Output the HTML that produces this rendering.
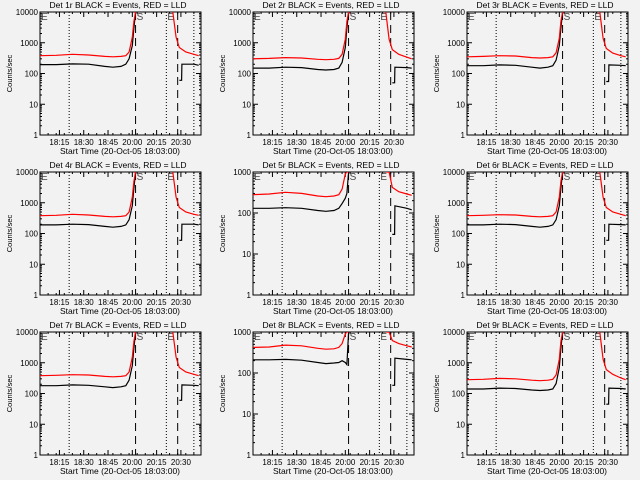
<!DOCTYPE html>
<html><head><meta charset="utf-8"><style>
html,body{margin:0;padding:0;background:#f2f2f2;}
svg{display:block;font-family:"Liberation Sans",sans-serif;}
</style></head><body>
<svg id="c" width="640" height="480"></svg>
<script>
const panelTitles = ["Det 1r","Det 2r","Det 3r","Det 4r","Det 5r","Det 6r","Det 7r","Det 8r","Det 9r"];
const panelMaxDecade = [4,4,4,4,3,4,4,3,4];
const preTimes = [0,10,20,30,40,45,50,53,55,57,58,59];
const postTimesRed = [82,84,86,90,95,98];
const postTimesBlack = [86,87.4,87.6,95,98];
const redPre = [
 [380,390,420,400,360,350,360,380,500,1500,5000,12000],
 [300,310,330,320,290,280,290,310,420,1300,5000,12000],
 [350,360,380,370,330,320,330,350,470,1400,5000,12000],
 [380,390,420,400,360,350,360,380,500,1500,5000,12000],
 [280,290,320,300,260,250,260,280,380,900,2000,2000],
 [380,390,410,400,360,350,360,380,500,1500,5000,12000],
 [380,390,410,400,360,350,360,380,500,1500,5000,12000],
 [420,430,480,460,400,380,390,420,520,900,2000,2000],
 [280,290,310,300,270,260,270,290,400,1300,5000,12000]];
const redPost = [
 [12000,1500,700,500,420,380],[12000,1300,600,420,340,300],[12000,1400,650,460,380,350],
 [12000,1500,700,500,420,390],[2000,1000,420,330,290,270],[12000,1500,700,500,420,380],
 [12000,1500,700,500,420,380],[2000,1000,620,520,460,430],[12000,1300,600,420,320,280]];
const blackPre = [
 [195,195,205,200,170,160,170,200,300,800,3000,12000],
 [150,150,160,155,135,130,135,150,230,700,3000,12000],
 [180,180,190,185,160,150,160,180,270,800,3000,12000],
 [190,190,200,195,170,160,170,190,280,800,3000,12000],
 [130,130,135,130,115,110,115,130,170,230,300,2000],
 [190,190,200,195,170,160,170,190,280,800,3000,12000],
 [180,180,190,185,165,155,165,180,270,800,3000,12000],
 [210,210,215,205,180,170,175,180,200,180,160,2000],
 [140,140,150,145,130,125,130,140,210,700,3000,12000]];
const blackPost = [
 [60,60,200,200,185],[50,50,160,155,150],[55,55,190,185,180],
 [60,60,200,200,190],[30,30,150,130,120],[60,60,200,195,190],
 [60,60,190,185,180],[50,50,230,215,210],[45,45,150,145,140]];
const tickLabels = ["18:15","18:30","18:45","20:00","20:15","20:30"];
const tickTimes = [12,27,42,57,72,87];
const dottedTimes = [18,78,95];
const dashedTimes = [59,85];

const NS="http://www.w3.org/2000/svg";
const svg=document.getElementById('c');
function mk(tag,attrs,parent){const e=document.createElementNS(NS,tag);for(const k in attrs)e.setAttribute(k,attrs[k]);(parent||svg).appendChild(e);return e;}

for(let p=0;p<9;p++){
  const ox=[0,213,427][p%3], oy=[0,160,320][Math.floor(p/3)];
  const g=mk('g',{transform:`translate(${ox},${oy})`});
  
  
  const L=40,R=201,T=12,B=135,maxD=panelMaxDecade[p];
  const xs=t=>L+(t)*(R-L)/99.4;
  const ys=v=>{const lv=Math.log10(Math.max(1,Math.min(v,Math.pow(10,maxD))));return B-lv*(B-T)/maxD;};
  const clip='clip'+p;
  const cp=mk('clipPath',{id:clip},g);mk('rect',{x:L,y:T,width:R-L,height:B-T},cp);
  const ti=mk('text',{x:118,y:8,'text-anchor':'middle','font-size':'8.5'},g);
  ti.textContent=panelTitles[p]+" BLACK = Events, RED = LLD";
  
  
  const box=mk('rect',{x:L,y:T,width:R-L,height:B-T,fill:'none',stroke:'#000','stroke-width':1},g);
  
  
  for(let d=0;d<=maxD;d++){
    const y=ys(Math.pow(10,d));
    mk('line',{x1:L,x2:L+5,y1:y,y2:y,stroke:'#000'},g);
    mk('line',{x1:R,x2:R-5,y1:y,y2:y,stroke:'#000'},g);
    const tl=mk('text',{x:L-2,y:y+3,'text-anchor':'end','font-size':'8'},g);
    tl.textContent=String(Math.pow(10,d));
    
    
    if(d<maxD)for(let m=2;m<10;m++){const ym=ys(m*Math.pow(10,d));
      mk('line',{x1:L,x2:L+2,y1:ym,y2:ym,stroke:'#000'},g);mk('line',{x1:R,x2:R-2,y1:ym,y2:ym,stroke:'#000'},g);}
  }
  tickTimes.forEach((t,i)=>{const x=xs(t);
    mk('line',{x1:x,x2:x,y1:B,y2:B-5,stroke:'#000'},g);mk('line',{x1:x,x2:x,y1:T,y2:T+5,stroke:'#000'},g);
    const tl=mk('text',{x:x,y:B+10,'text-anchor':'middle','font-size':'8'},g);
    tl.textContent=tickLabels[i];
    
    
  });
  for(let t=0;t<99;t+=5){const x=xs(t);mk('line',{x1:x,x2:x,y1:B,y2:B-2,stroke:'#000'},g);mk('line',{x1:x,x2:x,y1:T,y2:T+2,stroke:'#000'},g);}
  const xl=mk('text',{x:120,y:154,'text-anchor':'middle','font-size':'8.5'},g);
  xl.textContent="Start Time (20-Oct-05 18:03:00)";
  
  
  const yl=mk('text',{x:0,y:0,'text-anchor':'middle','font-size':'7.5',transform:`translate(12,${(T+B)/2}) rotate(-90)`},g);
  yl.textContent="Counts/sec";
  
  
  dottedTimes.forEach(t=>{const l=mk('line',{x1:xs(t),x2:xs(t),y1:T,y2:B,stroke:'#000','stroke-dasharray':'1,2'},g);
    });
  dashedTimes.forEach(t=>{const l=mk('line',{x1:xs(t),x2:xs(t),y1:T,y2:B,stroke:'#000','stroke-dasharray':'8,5'},g);
    });
  const aE=mk('text',{x:L+1,y:T+8,'font-size':'10',fill:'#444'},g);aE.textContent="E";
  
  const aS=mk('text',{x:xs(59)+1,y:T+8,'font-size':'10',fill:'#444'},g);aS.textContent="S";
  
  const aE2=mk('text',{x:xs(78)+1,y:T+8,'font-size':'10',fill:'#444'},g);aE2.textContent="E";
  
  const path=(ts,vs)=>ts.map((t,i)=>(i?'L':'M')+xs(t).toFixed(1)+','+ys(vs[i]).toFixed(1)).join('');
  const gs=mk('g',{'clip-path':`url(#${clip})`},g);
  const s1=mk('path',{d:path(preTimes,blackPre[p]),fill:'none',stroke:'#000','stroke-width':1.2},gs);
  
  const s2=mk('path',{d:path(postTimesBlack,blackPost[p]),fill:'none',stroke:'#000','stroke-width':1.2},gs);
  
  const s3=mk('path',{d:path(preTimes,redPre[p]),fill:'none',stroke:'#f00','stroke-width':1.2},gs);
  
  const s4=mk('path',{d:path(postTimesRed,redPost[p]),fill:'none',stroke:'#f00','stroke-width':1.2},gs);
  
}
</script>
</body></html>
